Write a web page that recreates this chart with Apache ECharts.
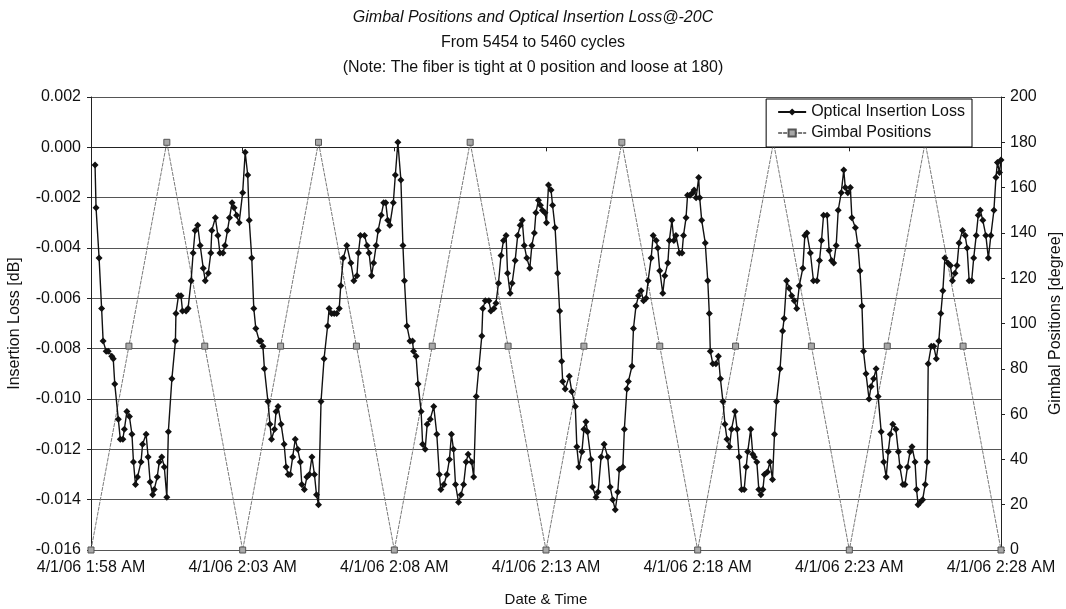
<!DOCTYPE html>
<html><head><meta charset="utf-8">
<script src="https://cdn.jsdelivr.net/npm/echarts@6/dist/echarts.min.js"></script>
<style>html,body{margin:0;padding:0;background:#fff}#c{width:1066px;height:609px}</style>
</head><body><div id="c"></div>
<script>
// time = seconds after 4/1/06 1:58:00 AM
const lossSec = [8,10,16,21,24,30,34,41,44,47,54,58,63,66,71,76,81,84,88,92,99,102,109,113,117,122,125,131,135,140,145,150,153,160,167,168,173,178,181,188,192,198,202,206,211,216,222,226,232,237,239,246,251,255,261,265,270,274,279,283,288,293,300,305,310,313,318,322,326,333,336,340,343,350,354,357,363,366,370,376,382,386,390,394,399,404,409,414,417,422,427,432,437,442,446,450,455,461,468,471,476,481,486,491,494,499,506,514,520,526,529,533,541,546,550,555,559,564,568,574,579,583,587,591,598,602,607,613,617,620,625,631,636,638,643,647,653,656,661,665,671,678,684,689,692,698,704,709,713,717,721,727,732,737,742,746,753,757,762,767,773,775,780,787,791,797,801,806,811,816,821,824,829,833,839,844,849,853,857,862,868,872,877,880,885,889,893,898,901,905,910,913,918,923,927,931,933,938,946,951,958,961,965,971,975,979,982,989,992,999,1003,1009,1015,1022,1027,1032,1037,1042,1045,1052,1055,1060,1063,1070,1073,1078,1083,1088,1093,1098,1102,1108,1112,1118,1121,1125,1131,1135,1141,1144,1149,1153,1157,1164,1169,1172,1177,1180,1185,1190,1193,1197,1202,1204,1208,1215,1220,1223,1225,1230,1236,1241,1245,1250,1254,1258,1263,1267,1274,1278,1282,1287,1292,1296,1299,1305,1309,1312,1317,1321,1325,1329,1332,1338,1343,1348,1352,1356,1363,1368,1371,1376,1381,1386,1391,1396,1401,1408,1412,1416,1423,1429,1436,1441,1445,1449,1456,1460,1465,1469,1474,1478,1484,1489,1492,1497,1502,1505,1512,1517,1521,1525,1528,1533,1539,1543,1548,1553,1557,1563,1568,1573,1577,1581,1586,1592,1597,1600,1606,1610,1615,1620,1624,1630,1633,1636,1640,1645,1650,1654,1656,1662,1667,1672,1677,1681,1685,1689,1695,1700,1704,1709,1713,1717,1724,1729,1733,1737,1742,1746,1751,1755,1759,1764,1770,1775,1780,1786,1790,1793,1797,1800];
const lossVal = [-0.0007,-0.0024,-0.0044,-0.0064,-0.0077,-0.0081,-0.0081,-0.0083,-0.0084,-0.0094,-0.0108,-0.0116,-0.0116,-0.0112,-0.0105,-0.0107,-0.0114,-0.0125,-0.0134,-0.0131,-0.0125,-0.0118,-0.0114,-0.0123,-0.0133,-0.0138,-0.0136,-0.0131,-0.0125,-0.0123,-0.0127,-0.0139,-0.0113,-0.0092,-0.0077,-0.0066,-0.0059,-0.0059,-0.0065,-0.0065,-0.0064,-0.0053,-0.0042,-0.0033,-0.0031,-0.0039,-0.0048,-0.0053,-0.0050,-0.0042,-0.0033,-0.0028,-0.0035,-0.0042,-0.0042,-0.0039,-0.0033,-0.0028,-0.0022,-0.0024,-0.0027,-0.0030,-0.0018,-0.0002,-0.0011,-0.0029,-0.0044,-0.0064,-0.0072,-0.0077,-0.0077,-0.0079,-0.0088,-0.0101,-0.0110,-0.0116,-0.0112,-0.0105,-0.0103,-0.0110,-0.0118,-0.0127,-0.0130,-0.0130,-0.0123,-0.0116,-0.0120,-0.0125,-0.0134,-0.0136,-0.0131,-0.0130,-0.0123,-0.0130,-0.0138,-0.0142,-0.0101,-0.0084,-0.0071,-0.0064,-0.0066,-0.0066,-0.0066,-0.0064,-0.0055,-0.0044,-0.0039,-0.0046,-0.0053,-0.0051,-0.0042,-0.0035,-0.0035,-0.0039,-0.0042,-0.0051,-0.0046,-0.0039,-0.0033,-0.0027,-0.0022,-0.0022,-0.0029,-0.0031,-0.0022,-0.0011,0.0002,-0.0013,-0.0039,-0.0053,-0.0071,-0.0077,-0.0077,-0.0081,-0.0083,-0.0094,-0.0105,-0.0118,-0.0120,-0.0110,-0.0108,-0.0103,-0.0114,-0.0130,-0.0136,-0.0134,-0.0130,-0.0124,-0.0114,-0.0120,-0.0134,-0.0141,-0.0138,-0.0134,-0.0125,-0.0122,-0.0125,-0.0131,-0.0099,-0.0088,-0.0075,-0.0064,-0.0061,-0.0061,-0.0065,-0.0064,-0.0062,-0.0054,-0.0043,-0.0037,-0.0035,-0.0050,-0.0058,-0.0054,-0.0045,-0.0035,-0.0031,-0.0029,-0.0039,-0.0044,-0.0048,-0.0039,-0.0034,-0.0026,-0.0021,-0.0023,-0.0025,-0.0026,-0.0030,-0.0015,-0.0017,-0.0023,-0.0032,-0.0050,-0.0065,-0.0085,-0.0093,-0.0096,-0.0091,-0.0097,-0.0103,-0.0119,-0.0127,-0.0121,-0.0112,-0.0109,-0.0113,-0.0124,-0.0135,-0.0139,-0.0137,-0.0123,-0.0118,-0.0123,-0.0135,-0.0140,-0.0144,-0.0137,-0.0128,-0.0127,-0.0112,-0.0096,-0.0093,-0.0087,-0.0072,-0.0063,-0.0059,-0.0057,-0.0061,-0.0060,-0.0053,-0.0044,-0.0035,-0.0037,-0.0040,-0.0049,-0.0058,-0.0051,-0.0046,-0.0037,-0.0029,-0.0037,-0.0035,-0.0042,-0.0042,-0.0035,-0.0028,-0.0019,-0.0019,-0.0018,-0.0017,-0.0020,-0.0012,-0.0020,-0.0029,-0.0038,-0.0053,-0.0066,-0.0081,-0.0086,-0.0086,-0.0083,-0.0092,-0.0101,-0.0110,-0.0116,-0.0119,-0.0112,-0.0105,-0.0112,-0.0123,-0.0136,-0.0136,-0.0127,-0.0121,-0.0112,-0.0122,-0.0123,-0.0125,-0.0136,-0.0138,-0.0136,-0.0130,-0.0129,-0.0125,-0.0132,-0.0114,-0.0101,-0.0088,-0.0073,-0.0068,-0.0053,-0.0056,-0.0059,-0.0061,-0.0064,-0.0055,-0.0048,-0.0035,-0.0034,-0.0042,-0.0053,-0.0053,-0.0045,-0.0037,-0.0027,-0.0027,-0.0041,-0.0045,-0.0046,-0.0039,-0.0025,-0.0018,-0.0009,-0.0016,-0.0018,-0.0016,-0.0028,-0.0032,-0.0039,-0.0049,-0.0063,-0.0081,-0.0090,-0.0100,-0.0095,-0.0092,-0.0088,-0.0099,-0.0113,-0.0125,-0.0131,-0.0121,-0.0114,-0.0110,-0.0112,-0.0121,-0.0127,-0.0134,-0.0134,-0.0127,-0.0121,-0.0119,-0.0125,-0.0136,-0.0142,-0.0141,-0.0140,-0.0134,-0.0125,-0.0086,-0.0079,-0.0079,-0.0084,-0.0077,-0.0066,-0.0057,-0.0044,-0.0046,-0.0047,-0.0053,-0.0050,-0.0047,-0.0038,-0.0033,-0.0035,-0.0040,-0.0053,-0.0053,-0.0044,-0.0035,-0.0027,-0.0025,-0.0029,-0.0035,-0.0044,-0.0035,-0.0025,-0.0012,-0.0006,-0.0010,-0.0005];
const gimbalSec = [0,75,150,225,300,375,450,525,600,675,750,825,900,975,1050,1125,1200,1275,1350,1425,1500,1575,1650,1725,1800];
const gimbalDeg = [0,90,180,90,0,90,180,90,0,90,180,90,0,90,180,90,0,90,180,90,0,90,180,90,0];
const leftTicks = {min:-0.016, max:0.002, step:0.002};
const rightTicks = {min:0, max:200, step:20};
const xTicks = {min:0, max:1800, step:300};

const FONT = 'Liberation Sans, Arial, sans-serif';
function fmtTime(s){
  let total = 1*60 + 58 + Math.round(s/60);
  let h = Math.floor(total/60), m = total%60;
  return '4/1/06 ' + h + ':' + (m<10?'0':'') + m + ' AM';
}
const chart = echarts.init(document.getElementById('c'), null, {renderer:'canvas'});
chart.setOption({
  animation:false,
  backgroundColor:'#fff',
  title:{
    left:'center', top:1,
    text:'{a|Gimbal Positions and Optical Insertion Loss@-20C}\n{b|From 5454 to 5460 cycles}\n{b|(Note: The fiber is tight at 0 position and loose at 180)}',
    textStyle:{fontFamily:FONT, fontWeight:'normal', rich:{
      a:{fontFamily:FONT, fontSize:16, fontStyle:'italic', fontWeight:'normal', color:'#111', lineHeight:24},
      b:{fontFamily:FONT, fontSize:16, fontWeight:'normal', color:'#111', lineHeight:25}
    }}
  },
  legend:{
    orient:'vertical', right:94, top:99, z:10,
    backgroundColor:'#fff', borderColor:'#000', borderWidth:1,
    padding:[5,7,6,11], itemGap:5, itemWidth:28, itemHeight:9,
    textStyle:{fontFamily:FONT, fontSize:16, color:'#111'},
    data:['Optical Insertion Loss','Gimbal Positions']
  },
  grid:{left:91, right:65, top:97, bottom:59, containLabel:false, outerBoundsMode:'none'},
  xAxis:{
    type:'value', min:xTicks.min, max:xTicks.max, interval:xTicks.step,
    name:'Date & Time', nameLocation:'middle', nameGap:42,
    nameTextStyle:{fontFamily:FONT, fontSize:15, color:'#111'},
    axisLine:{lineStyle:{color:'#222', width:1}},
    axisTick:{show:true, length:4, lineStyle:{color:'#222'}},
    axisLabel:{fontFamily:FONT, fontSize:16, color:'#111', margin:10, formatter:fmtTime},
    splitLine:{show:false}
  },
  yAxis:[{
    type:'value', min:leftTicks.min, max:leftTicks.max, interval:leftTicks.step,
    name:'Insertion Loss [dB]', nameLocation:'middle', nameGap:68, nameRotate:90,
    nameTextStyle:{fontFamily:FONT, fontSize:16, color:'#111'},
    axisLine:{show:true, lineStyle:{color:'#222'}},
    axisTick:{show:true, length:4, lineStyle:{color:'#222'}},
    axisLabel:{fontFamily:FONT, fontSize:16, color:'#111', margin:10, formatter:v=>v.toFixed(3)},
    splitLine:{show:true, lineStyle:{color:'#555', width:1}}
  },{
    type:'value', min:rightTicks.min, max:rightTicks.max, interval:rightTicks.step,
    name:'Gimbal Positions [degree]', nameLocation:'middle', nameGap:44, nameRotate:90,
    nameTextStyle:{fontFamily:FONT, fontSize:16, color:'#111'},
    axisLine:{show:true, lineStyle:{color:'#222'}},
    axisTick:{show:true, length:4, lineStyle:{color:'#222'}},
    axisLabel:{fontFamily:FONT, fontSize:16, color:'#111', margin:9},
    splitLine:{show:false}
  }],
  series:[{
    name:'Gimbal Positions', type:'line', yAxisIndex:1,
    data:gimbalSec.map((s,i)=>[s,gimbalDeg[i]]),
    symbol:'rect', symbolSize:6, showAllSymbol:true,
    lineStyle:{color:'#7a7a7a', width:1, type:[4,1]},
    itemStyle:{color:'#a8a8a8', borderColor:'#555', borderWidth:1},
    z:2
  },{
    name:'Optical Insertion Loss', type:'line', yAxisIndex:0,
    data:lossSec.map((s,i)=>[s,lossVal[i]]),
    symbol:'diamond', symbolSize:7, showAllSymbol:true,
    lineStyle:{color:'#111', width:1.4},
    itemStyle:{color:'#111'},
    z:3
  }]
});
</script></body></html>
